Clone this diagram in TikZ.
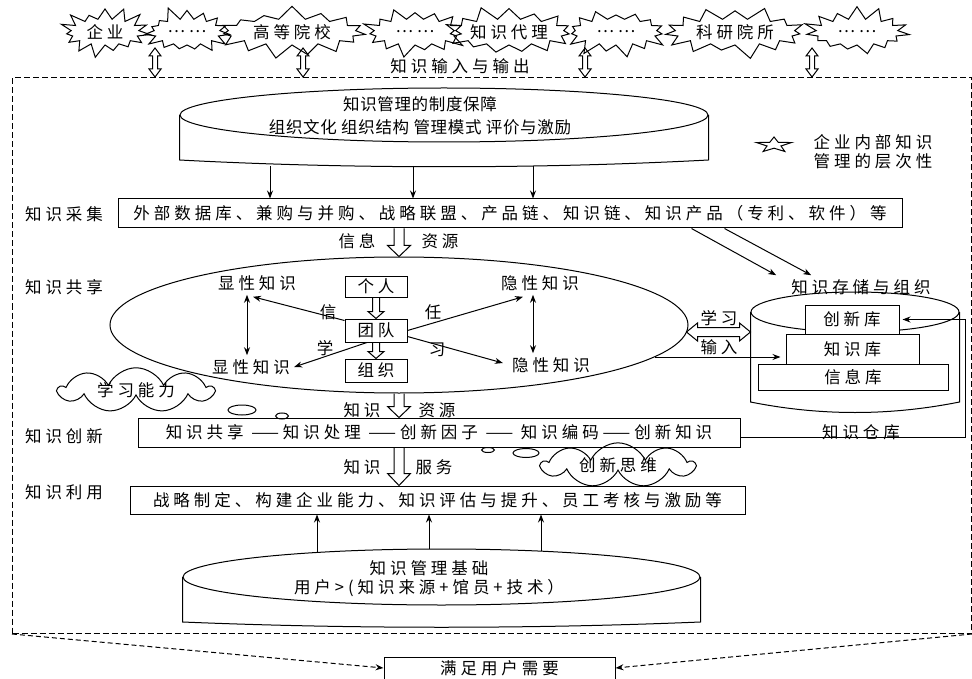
\documentclass[tikz,border=0pt]{standalone}
\usepackage{fontspec}
\setmainfont{Noto Sans CJK SC}[LetterSpace=24]
\newfontfamily\tightcjk{Noto Sans CJK SC}[LetterSpace=4]
\usetikzlibrary{arrows.meta,positioning,calc,shapes.geometric,shapes.symbols}
\tikzset{
  every node/.style={font=\fontsize{16.5}{19}\selectfont, inner sep=0pt},
  lw/.style={line width=1pt},
  layerbox/.style={draw, lw, minimum height=29pt},
  unitbox/.style={draw, lw, minimum width=62pt, minimum height=23pt},
  libbox/.style={draw, lw, fill=white},
  burst/.style={starburst, draw, lw, starburst points=15, starburst point height=14pt},
  ptr/.style={lw, -{Stealth[length=8pt,width=6pt]}},
  dptr/.style={lw, {Stealth[length=8pt,width=6pt]}-{Stealth[length=8pt,width=6pt]}},
  % open block arrow: shaft half width, head half width, head length
  hollow/.style n args={3}{to path={
    ($(\tikztotarget)!#3!(\tikztostart)$) coordinate (hq)
    ($(\tikztostart)!#1!90:(\tikztotarget)$) -- ($(hq)!#1!90:(\tikztotarget)$)
    -- ($(hq)!#2!90:(\tikztotarget)$) -- (\tikztotarget)
    -- ($(hq)!#2!-90:(\tikztotarget)$) -- ($(hq)!#1!-90:(\tikztotarget)$)
    -- ($(\tikztostart)!#1!-90:(\tikztotarget)$)}},
  hollowpair/.style n args={3}{to path={
    ($(\tikztostart)!#3!(\tikztotarget)$) coordinate (hs)
    ($(\tikztotarget)!#3!(\tikztostart)$) coordinate (ht)
    (\tikztostart) -- ($(hs)!#2!90:(\tikztotarget)$) -- ($(hs)!#1!90:(\tikztotarget)$)
    -- ($(ht)!#1!90:(\tikztotarget)$) -- ($(ht)!#2!90:(\tikztotarget)$) -- (\tikztotarget)
    -- ($(ht)!#2!-90:(\tikztotarget)$) -- ($(ht)!#1!-90:(\tikztotarget)$)
    -- ($(hs)!#1!-90:(\tikztotarget)$) -- ($(hs)!#2!-90:(\tikztotarget)$) -- cycle}},
  bubble/.style={ellipse, draw, lw},
  puff/.style={cloud, draw, lw, cloud puffs=9, cloud puff arc=130, cloud ignores aspect},
  outline/.style={lw, dash pattern=on 6pt off 3pt},
}

\begin{document}
\begin{tikzpicture}[x=1pt,y=-1pt]
  \useasboundingbox (0,0) rectangle (972,679);

  % outside sources
  \foreach \cx/\w/\nm/\what/\seed in {%
    105/96/qiye/{企业}/21, 187/94/etc1/{……}/5, 292/156/gaoxiao/{高等院校}/7,
    415/110/etc2/{……}/9, 509/126/daili/{知识代理}/11, 616/110/etc3/{……}/13,
    735/148/keyan/{科研院所}/15, 857/110/etc4/{……}/17}
  {
    \node[burst, minimum width=\w pt, minimum height=54pt, random starburst=\seed] (\nm) at (\cx,32) {\what};
  }

  % enterprise frame
  \node[draw, outline, minimum width=959pt, minimum height=556pt, anchor=north west] (frame) at (12,77) {};
  \node (io) at (460,66) {知识输入与输出};
  \foreach \x in {155,303,585,812}
  {
    \coordinate (src\x) at (\x,48);
    \draw[lw] (src\x) to[hollowpair={2.5pt}{6pt}{8pt}] (frame.north -| src\x);
  }

  % guarantee cylinder
  \node[ellipse, draw, lw, minimum width=528pt, minimum height=54pt] (guar) at (444,115) {};
  \draw[lw] (guar.west) -- ++(0,45)
    .. controls +(170,9) and +(-170,9) .. ($(guar.east)+(0,45)$) -- (guar.east);
  \node[align=center, font=\tightcjk\fontsize{16.5}{23}\selectfont] (guartxt) at (420,116)
    {知识管理的制度保障\\组织文化 组织结构 管理模式 评价与激励};

  % legend
  \node[star, star points=5, star point ratio=2.5, draw, lw, minimum size=16pt, xscale=2.3, transform shape] (legstar) at (774,145) {};
  \node[align=left, font=\fontsize{16.5}{19}\selectfont] (legtxt) at (873,152) {企业内部知识\\管理的层次性};

  % acquisition
  \node[layerbox, minimum width=784pt] (acq) at (510,213.5)
    {外部数据库、兼购与并购、战略联盟、产品链、知识链、知识产品（专利、软件）等};
  \node (acqlbl) at (64,214) {知识采集};
  \foreach \x in {270,413,533}
    \draw[ptr] (\x,166) -- (acq.north -| \x,0);

  % sharing
  \node[ellipse, draw, lw, minimum width=578pt, minimum height=136pt] (share) at (399,325) {};
  \node (sharelbl) at (64,287) {知识共享};
  \draw[lw] (share.north |- acq.south) to[hollow={5pt}{11.5pt}{11pt}] (share.north);
  \node (xinxi) at (357,241) {信息};
  \node (ziyuan) at (440,241) {资源};

  \node[unitbox, minimum height=21pt] (ind) at (376,286.5) {个人};
  \node[unitbox, below=21pt of ind] (team) {团队};
  \node[unitbox, below=16pt of team] (org) {组织};
  \draw[lw] (ind.south) to[hollow={3.5pt}{8pt}{7pt}] (team.north);
  \draw[lw] (team.south) to[hollow={3.5pt}{8pt}{7pt}] (org.north);

  \node[inner sep=4pt] (ex1) at (257,283) {显性知识};
  \node[inner sep=4pt] (ex2) at (251,367) {显性知识};
  \node[inner sep=4pt] (im1) at (540,283) {隐性知识};
  \node[inner sep=4pt] (im2) at (551,365) {隐性知识};
  \draw[dptr] ([xshift=-10pt]ex1.south) -- ([xshift=-4pt]ex2.north);
  \draw[dptr] ([xshift=-7pt]im1.south) -- ([xshift=-18pt]im2.north);
  \draw[ptr] ([yshift=-2pt]team.north west) -- ($(ex1.south)+(-4,2)$);
  \draw[ptr] ([xshift=-9pt]team.south) -- (ex2.east);
  \draw[ptr] (team.east) -- ($(im1.south)+(-17,2)$);
  \draw[ptr] ([yshift=-6pt]team.east) -- ($(im2.west)+(-5,-2)$);
  \node (xin) at (328,312) {信};
  \node (ren) at (433,312) {任};
  \node (xue) at (325,348) {学};
  \node (xi) at (437,350) {习};

  % storage
  \node (storelbl) at (861,287) {知识存储与组织};
  \node[ellipse, draw, lw, minimum width=208pt, minimum height=40pt] (store) at (855,312) {};
  \draw[lw] (store.west) -- ++(0,90)
    .. controls +(70,14) and +(-70,14) .. ($(store.east)+(0,90)$) -- (store.east);
  \node[libbox, minimum width=190pt, minimum height=26pt] (info) at (853,377) {信息库};
  \node[libbox, minimum width=133pt, minimum height=30pt] (know) at (852.5,349) {知识库};
  \node[libbox, minimum width=94pt, minimum height=29pt] (innov) at (852,319.5) {创新库};
  \node (storebot) at (861,432) {知识仓库};
  \draw[ptr] ($(acq.south east)+(-211,0)$) -- ($(storelbl.north west)+(-15,-4)$);
  \draw[ptr] ($(acq.south east)+(-178,0)$) -- ($(storelbl.north west)+(20,-4)$);
  \draw[lw] ($(share.east)+(-2,7)$) to[hollowpair={4.5pt}{9pt}{11pt}] ($(store.west)+(0,20)$);
  \node (xuexi) at (719,318) {学习};
  \node (shuru) at (719,347) {输入};
  \coordinate (shareout) at ($(share.center)+(256,32)$);
  \draw[ptr, shorten >=5pt] (shareout) -- (shareout -| know.west);

  % clouds
  \node[puff, minimum width=154pt, minimum height=40pt] (xxnl) at (136,390) {学习能力};
  \node[bubble, minimum width=28pt, minimum height=10pt] (bub1) at (242,410) {};
  \node[bubble, minimum width=13pt, minimum height=6pt] (bub2) at (282,416) {};
  \node[puff, minimum width=152pt, minimum height=40pt] (cxsw) at (618,465) {创新思维};
  \node[bubble, minimum width=26pt, minimum height=9pt] (bub3) at (526,453) {};
  \node[bubble, minimum width=13pt, minimum height=5pt] (bub4) at (488,450) {};

  % innovation and use
  \node[layerbox, minimum width=602pt] (inno) at (439,432.5)
    {知识共享 ——知识处理 ——创新因子 —— 知识编码——创新知识};
  \node (innolbl) at (64,436) {知识创新};
  \draw[lw] (share.south) to[hollow={5pt}{11.5pt}{11pt}] (share.south |- inno.north);
  \node (zhishi1) at (362,410) {知识};
  \node (ziyuan2) at (437,410) {资源};
  \draw[ptr, shorten >=3pt] ([yshift=-5pt]inno.east) -| ([xshift=66pt]innov.east) -- (innov.east);

  \node[layerbox, minimum width=615pt, minimum height=28pt] (use) at (437.5,500)
    {战略制定、构建企业能力、知识评估与提升、员工考核与激励等};
  \node (uselbl) at (64,492) {知识利用};
  \draw[lw] (share.south |- inno.south) to[hollow={5pt}{11.5pt}{12pt}] (share.south |- use.north);
  \node (zhishi2) at (362,467) {知识};
  \node (fuwu) at (434,467) {服务};

  % basis cylinder
  \node[ellipse, draw, lw, minimum width=517pt, minimum height=56pt] (basis) at (441.5,577) {};
  \draw[lw] (basis.west) -- ++(0,45)
    .. controls +(170,7) and +(-170,7) .. ($(basis.east)+(0,45)$) -- (basis.east);
  \node[align=center] (basistxt) at (429,579) {知识管理基础\\用户>(知识来源+馆员+技术）};
  \foreach \x/\y in {317/552,429/549,541/551}
    \draw[ptr] (\x,\y) -- (use.south -| \x,0);

  % result
  \node[draw, lw, minimum width=231pt, minimum height=22pt] (need) at (499.5,668) {满足用户需要};
  \draw[ptr, dash pattern=on 5pt off 3pt] (frame.south west) -- (need.west);
  \draw[ptr, dash pattern=on 5pt off 3pt] (frame.south east) -- (need.east);
\end{tikzpicture}
\end{document}
